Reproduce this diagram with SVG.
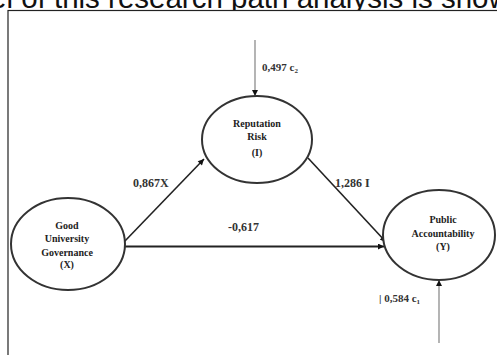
<svg xmlns="http://www.w3.org/2000/svg" width="497" height="355" viewBox="0 0 497 355">
<defs>
<style>
.hdr{font-family:"Liberation Sans",Arial,sans-serif;font-size:29.5px;fill:#111}
.node{fill:#fff;stroke:#333;stroke-width:2}
.nt{font-family:"Liberation Serif","Times New Roman",serif;font-weight:bold;font-size:10px;fill:#222;text-anchor:middle}
.lbl{font-family:"Liberation Serif","Times New Roman",serif;font-weight:bold;font-size:12px;fill:#333}
.elbl{font-family:"Liberation Serif","Times New Roman",serif;font-weight:bold;font-size:11px;fill:#333}
.path{stroke:#222;stroke-width:1.6;fill:none;marker-end:url(#ah)}
.err{stroke:#777;stroke-width:1.1;fill:none;marker-end:url(#ah)}
</style>
<marker id="ah" viewBox="0 0 10 10" refX="10" refY="5" markerWidth="7" markerHeight="6" markerUnits="userSpaceOnUse" orient="auto">
<path d="M0,0 L10,5 L0,10 z" fill="#111"/>
</marker>
</defs>
<rect width="497" height="355" fill="#fff"/>
<text class="hdr" x="-10" y="7.5">el of this research path analysis is shown</text>
<rect x="8" y="10.5" width="500" height="360" fill="#fff" stroke="#222" stroke-width="1.2"/>
<g id="connectors">
<line class="err" x1="255" y1="40" x2="255" y2="96"/>
<line class="path" x1="124" y1="242" x2="204" y2="159"/>
<line class="path" x1="308" y1="158" x2="386" y2="242"/>
<line class="path" x1="125" y1="246.5" x2="384" y2="246.5" style="stroke-width:2"/>
<line class="err" x1="439" y1="343" x2="439" y2="280"/>
<text class="elbl" x="262" y="71">0,497 c<tspan font-size="7" dy="2">2</tspan></text>
<text class="lbl" x="133" y="187">0,867X</text>
<text class="lbl" x="335" y="187">1,286 I</text>
<text class="lbl" x="228" y="231">-0,617</text>
<text class="elbl" x="379" y="302">| 0,584 c<tspan font-size="7" dy="2">1</tspan></text>
</g>
<g id="node-I">
<ellipse class="node" cx="257" cy="139.5" rx="55" ry="43.5"/>
<text class="nt" x="257" y="127">Reputation</text>
<text class="nt" x="257" y="140">Risk</text>
<text class="nt" x="257" y="156">(I)</text>
</g>
<g id="node-X">
<ellipse class="node" cx="68" cy="244" rx="57" ry="46"/>
<text class="nt" x="67" y="229">Good</text>
<text class="nt" x="67" y="242">University</text>
<text class="nt" x="67" y="256">Governance</text>
<text class="nt" x="67" y="268">(X)</text>
</g>
<g id="node-Y">
<ellipse class="node" cx="439" cy="235" rx="56" ry="45"/>
<text class="nt" x="443" y="223">Public</text>
<text class="nt" x="443" y="237">Accountability</text>
<text class="nt" x="443" y="250">(Y)</text>
</g>
</svg>
